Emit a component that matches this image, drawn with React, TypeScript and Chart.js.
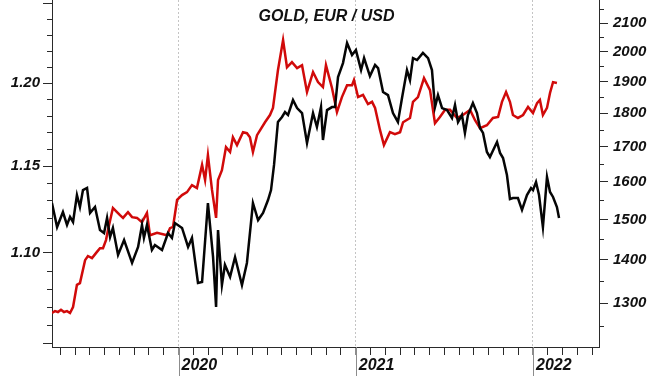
import React, { useEffect, useRef } from 'react';
import { Chart, registerables } from 'chart.js';

Chart.register(...registerables);

const TITLE = 'GOLD, EUR / USD';

// Axis ranges (decimal years; EUR/USD on left log axis; gold on right log axis)
const X_MIN = 2019.2863;
const X_MAX = 2022.3724;
const EUR_MIN = 1.0483;
const EUR_MAX = 1.2521;
const GOLD_MIN = 1205.6;
const GOLD_MAX = 2184.8;

// Tick values
const YEAR_TICKS = [2020, 2021, 2022];
const EUR_LABELS = [1.1, 1.15, 1.2];
const EUR_LONG = [1.05, 1.1, 1.15, 1.2, 1.25];
const GOLD_LABELS = [1300, 1400, 1500, 1600, 1700, 1800, 1900, 2000, 2100];

// EUR/USD (black) : [decimal year, rate]
const EUR_SERIES: [number, number][] = [
  [2019.286, 1.1285], [2019.315, 1.1147], [2019.348, 1.1233], [2019.371, 1.1159], [2019.388, 1.1205],
  [2019.405, 1.1176], [2019.427, 1.1331], [2019.444, 1.1262], [2019.461, 1.136], [2019.484, 1.1372],
  [2019.501, 1.1228], [2019.529, 1.1262], [2019.557, 1.113], [2019.58, 1.1113], [2019.597, 1.1199],
  [2019.614, 1.109], [2019.63, 1.1142], [2019.659, 1.0989], [2019.693, 1.1073], [2019.738, 1.0944],
  [2019.772, 1.1034], [2019.794, 1.1159], [2019.805, 1.1085], [2019.822, 1.1159], [2019.85, 1.1017],
  [2019.867, 1.1045], [2019.907, 1.1017], [2019.941, 1.1113], [2019.963, 1.1085], [2019.98, 1.117],
  [2020.02, 1.1142], [2020.054, 1.1034], [2020.076, 1.1085], [2020.11, 1.0832], [2020.133, 1.0838],
  [2020.166, 1.1285], [2020.195, 1.0977], [2020.212, 1.07], [2020.223, 1.113], [2020.245, 1.0821],
  [2020.262, 1.0933], [2020.291, 1.0866], [2020.319, 1.0977], [2020.358, 1.0821], [2020.386, 1.0944],
  [2020.42, 1.1285], [2020.449, 1.1187], [2020.477, 1.1228], [2020.505, 1.1302], [2020.522, 1.136],
  [2020.539, 1.1507], [2020.561, 1.1763], [2020.584, 1.1793], [2020.601, 1.1823], [2020.618, 1.1805],
  [2020.646, 1.1896], [2020.669, 1.1847], [2020.697, 1.1817], [2020.725, 1.1637], [2020.759, 1.1817],
  [2020.781, 1.1733], [2020.804, 1.1853], [2020.815, 1.1655], [2020.838, 1.1835], [2020.866, 1.1853],
  [2020.883, 1.1853], [2020.9, 1.2037], [2020.928, 1.2123], [2020.951, 1.2248], [2020.979, 1.2173],
  [2021.001, 1.2204], [2021.03, 1.208], [2021.047, 1.2154], [2021.08, 1.2043], [2021.109, 1.2111],
  [2021.126, 1.2092], [2021.154, 1.1945], [2021.182, 1.1926], [2021.21, 1.1817], [2021.238, 1.1763],
  [2021.261, 1.1908], [2021.289, 1.208], [2021.306, 1.2018], [2021.323, 1.2154], [2021.346, 1.2142],
  [2021.379, 1.2186], [2021.408, 1.2154], [2021.43, 1.208], [2021.447, 1.1853], [2021.464, 1.1926],
  [2021.487, 1.1847], [2021.515, 1.1835], [2021.543, 1.1787], [2021.56, 1.1866], [2021.577, 1.1763],
  [2021.599, 1.1805], [2021.616, 1.1697], [2021.633, 1.1805], [2021.661, 1.1878], [2021.684, 1.1817],
  [2021.701, 1.1727], [2021.718, 1.1697], [2021.74, 1.1584], [2021.757, 1.1554], [2021.797, 1.1643],
  [2021.814, 1.1578], [2021.831, 1.1548], [2021.853, 1.1448], [2021.87, 1.1308], [2021.887, 1.1314],
  [2021.915, 1.1314], [2021.938, 1.1245], [2021.966, 1.1331], [2021.989, 1.1372], [2022.0, 1.136],
  [2022.017, 1.1407], [2022.034, 1.1331], [2022.056, 1.1147], [2022.079, 1.1436], [2022.096, 1.1349],
  [2022.113, 1.132], [2022.135, 1.1262], [2022.147, 1.1199],
];

// Gold (red) : [decimal year, USD/oz]
const GOLD_SERIES: [number, number][] = [
  [2019.286, 1278], [2019.303, 1282], [2019.32, 1280], [2019.337, 1285], [2019.354, 1280],
  [2019.371, 1282], [2019.388, 1278], [2019.405, 1291], [2019.427, 1341], [2019.444, 1345],
  [2019.473, 1399], [2019.489, 1409], [2019.512, 1404], [2019.54, 1419], [2019.557, 1428],
  [2019.574, 1428], [2019.591, 1448], [2019.602, 1473], [2019.63, 1530], [2019.653, 1519],
  [2019.67, 1511], [2019.687, 1504], [2019.715, 1519], [2019.738, 1506], [2019.766, 1504],
  [2019.794, 1493], [2019.822, 1517], [2019.839, 1460], [2019.879, 1466], [2019.935, 1460],
  [2019.952, 1478], [2019.969, 1481], [2019.992, 1551], [2020.02, 1564], [2020.048, 1572],
  [2020.076, 1591], [2020.104, 1583], [2020.133, 1647], [2020.15, 1605], [2020.166, 1675],
  [2020.189, 1578], [2020.212, 1504], [2020.223, 1605], [2020.245, 1632], [2020.268, 1698],
  [2020.291, 1684], [2020.307, 1727], [2020.33, 1704], [2020.364, 1742], [2020.386, 1739],
  [2020.403, 1727], [2020.42, 1684], [2020.443, 1733], [2020.488, 1772], [2020.516, 1794],
  [2020.533, 1816], [2020.561, 1937], [2020.59, 2040], [2020.612, 1947], [2020.64, 1964],
  [2020.669, 1944], [2020.697, 1954], [2020.725, 1866], [2020.759, 1931], [2020.787, 1898],
  [2020.815, 1882], [2020.832, 1954], [2020.866, 1879], [2020.894, 1803], [2020.922, 1850],
  [2020.951, 1888], [2020.979, 1888], [2020.99, 1905], [2021.013, 1850], [2021.041, 1857],
  [2021.069, 1828], [2021.092, 1835], [2021.109, 1816], [2021.137, 1748], [2021.159, 1704],
  [2021.193, 1742], [2021.221, 1736], [2021.25, 1742], [2021.267, 1772], [2021.306, 1785],
  [2021.323, 1835], [2021.351, 1850], [2021.385, 1911], [2021.419, 1872], [2021.447, 1769],
  [2021.475, 1788], [2021.504, 1810], [2021.532, 1810], [2021.571, 1785], [2021.605, 1794],
  [2021.645, 1810], [2021.673, 1778], [2021.701, 1754], [2021.74, 1763], [2021.774, 1785],
  [2021.803, 1788], [2021.825, 1835], [2021.848, 1866], [2021.87, 1835], [2021.887, 1794],
  [2021.915, 1785], [2021.944, 1794], [2021.972, 1819], [2022.0, 1800], [2022.023, 1831],
  [2022.039, 1841], [2022.056, 1794], [2022.079, 1816], [2022.096, 1863], [2022.113, 1898],
  [2022.135, 1895],
];

const FONT_FAMILY = 'Arial, "Liberation Sans", sans-serif';
const AXIS_COLOR = '#2a2a2a';

const near = (a: number, b: number) => Math.abs(a - b) < 1e-6;
const inList = (v: number, list: number[]) => list.some((t) => near(v, t));
const isYear = (v: number) => inList(v, YEAR_TICKS);

function monthTicks(): number[] {
  const out: number[] = [];
  for (let y = 2019; y <= 2022; y++) {
    for (let m = 0; m < 12; m++) {
      const v = y + m / 12;
      if (v > X_MIN && v < X_MAX) out.push(v);
    }
  }
  return out;
}
function eurTicks(): number[] {
  const out: number[] = [];
  for (let i = 105; i <= 125; i++) out.push(i / 100);
  return out;
}
function goldTicks(): number[] {
  const out: number[] = [];
  for (let v = 1250; v <= 2150; v += 50) out.push(v);
  return out;
}

const decorPlugin = {
  id: 'decor',
  afterDraw(chart: any) {
    const { ctx, chartArea } = chart;
    const xs = chart.scales.x;
    const yl = chart.scales.yL;
    const yr = chart.scales.yR;
    ctx.save();
    ctx.lineWidth = 1;
    ctx.strokeStyle = AXIS_COLOR;
    // short minor tick marks
    for (const t of yl.ticks) {
      if (inList(t.value, EUR_LONG)) continue;
      const py = Math.round(yl.getPixelForValue(t.value)) + 0.5;
      ctx.beginPath();
      ctx.moveTo(chartArea.left - 5, py);
      ctx.lineTo(chartArea.left, py);
      ctx.stroke();
    }
    for (const t of yr.ticks) {
      if (inList(t.value, GOLD_LABELS)) continue;
      const py = Math.round(yr.getPixelForValue(t.value)) + 0.5;
      ctx.beginPath();
      ctx.moveTo(chartArea.right, py);
      ctx.lineTo(chartArea.right + 5, py);
      ctx.stroke();
    }
    // long year separators below the axis
    ctx.strokeStyle = '#8c8c8c';
    for (const yv of YEAR_TICKS) {
      const px = Math.round(xs.getPixelForValue(yv)) + 0.5;
      ctx.beginPath();
      ctx.moveTo(px, chartArea.bottom);
      ctx.lineTo(px, chart.height);
      ctx.stroke();
    }
    // title
    ctx.font = `italic bold 16px ${FONT_FAMILY}`;
    ctx.fillStyle = '#111';
    ctx.textAlign = 'center';
    ctx.textBaseline = 'middle';
    ctx.fillText(TITLE, (chartArea.left + chartArea.right) / 2 + 1, 17);
    ctx.restore();
  },
};

export default function App() {
  const ref = useRef<HTMLCanvasElement>(null);

  useEffect(() => {
    if (!ref.current) return;
    const tickFont = { family: FONT_FAMILY, size: 15, style: 'italic' as const, weight: 'bold' as const };
    const chart = new Chart(ref.current, {
      type: 'line',
      data: {
        datasets: [
          {
            label: 'EUR / USD',
            data: EUR_SERIES.map(([x, y]) => ({ x, y })),
            yAxisID: 'yL',
            borderColor: '#050505',
            borderWidth: 2.5,
            pointRadius: 0,
            tension: 0,
            fill: false,
          },
          {
            label: 'GOLD',
            data: GOLD_SERIES.map(([x, y]) => ({ x, y })),
            yAxisID: 'yR',
            borderColor: '#d10a0a',
            borderWidth: 2.5,
            pointRadius: 0,
            tension: 0,
            fill: false,
          },
        ],
      },
      options: {
        animation: false,
        responsive: false,
        maintainAspectRatio: false,
        layout: { padding: 0 },
        plugins: {
          legend: { display: false },
          title: { display: false },
          tooltip: { enabled: false },
        },
        scales: {
          x: {
            type: 'linear',
            position: 'bottom',
            min: X_MIN,
            max: X_MAX,
            bounds: 'data',
            afterBuildTicks: (s: any) => {
              s.ticks = monthTicks().map((value) => ({ value }));
            },
            afterFit: (s: any) => {
              s.height = 29;
              s.paddingLeft = 0;
              s.paddingRight = 0;
            },
            ticks: {
              autoSkip: false,
              maxRotation: 0,
              minRotation: 0,
              align: 'start',
              labelOffset: 3,
              padding: 1,
              color: '#111',
              font: { family: FONT_FAMILY, size: 16, style: 'italic', weight: 'bold' },
              callback: (v: any) => (isYear(Number(v)) ? String(Math.round(Number(v))) : ''),
            },
            grid: {
              drawOnChartArea: true,
              lineWidth: 1,
              color: (c: any) => (c.tick && isYear(c.tick.value) ? '#c4c4c4' : 'rgba(0,0,0,0)'),
              tickLength: 8,
              tickColor: (c: any) => (c.tick && isYear(c.tick.value) ? '#8c8c8c' : AXIS_COLOR),
              tickBorderDash: [],
            },
            border: { color: AXIS_COLOR, width: 1, dash: [2, 2] },
          },
          yL: {
            type: 'logarithmic',
            position: 'left',
            min: EUR_MIN,
            max: EUR_MAX,
            bounds: 'data',
            afterBuildTicks: (s: any) => {
              s.ticks = eurTicks().map((value) => ({ value }));
            },
            afterFit: (s: any) => {
              s.width = 52;
              s.paddingTop = 0;
              s.paddingBottom = 0;
            },
            ticks: {
              autoSkip: false,
              padding: 3,
              color: '#111',
              font: tickFont,
              callback: (v: any) => (inList(Number(v), EUR_LABELS) ? Number(v).toFixed(2) : ''),
            },
            grid: {
              drawOnChartArea: false,
              tickLength: 9,
              tickColor: (c: any) => (c.tick && inList(c.tick.value, EUR_LONG) ? AXIS_COLOR : 'rgba(0,0,0,0)'),
            },
            border: { color: AXIS_COLOR, width: 1 },
          },
          yR: {
            type: 'logarithmic',
            position: 'right',
            min: GOLD_MIN,
            max: GOLD_MAX,
            bounds: 'data',
            afterBuildTicks: (s: any) => {
              s.ticks = goldTicks().map((value) => ({ value }));
            },
            afterFit: (s: any) => {
              s.width = 51;
              s.paddingTop = 0;
              s.paddingBottom = 0;
            },
            ticks: {
              autoSkip: false,
              padding: 5,
              color: '#111',
              font: tickFont,
              callback: (v: any) => (inList(Number(v), GOLD_LABELS) ? String(Math.round(Number(v))) : ''),
            },
            grid: {
              drawOnChartArea: false,
              tickLength: 9,
              tickColor: (c: any) => (c.tick && inList(c.tick.value, GOLD_LABELS) ? AXIS_COLOR : 'rgba(0,0,0,0)'),
            },
            border: { color: AXIS_COLOR, width: 1 },
          },
        },
      } as any,
      plugins: [decorPlugin],
    });
    return () => chart.destroy();
  }, []);

  return (
    <div style={{ position: 'fixed', left: 0, top: 0, width: 650, height: 376, background: '#fff' }}>
      <canvas ref={ref} width={650} height={376} style={{ display: 'block' }} />
    </div>
  );
}
